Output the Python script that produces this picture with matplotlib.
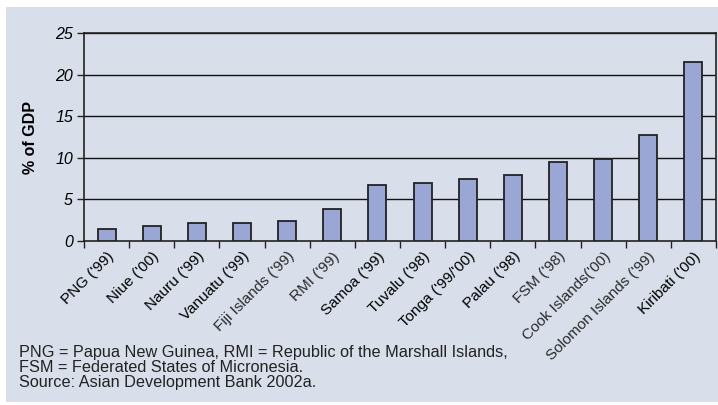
import numpy as np
import matplotlib.pyplot as plt
from matplotlib.patches import Rectangle

plt.rcParams['font.family'] = ['Liberation Sans', 'DejaVu Sans']

countries = ["PNG ('99)", "Niue ('00)", "Nauru ('99)", "Vanuatu ('99)", "Fiji Islands ('99)",
             "RMI ('99)", "Samoa ('99)", "Tuvalu ('98)", "Tonga ('99/'00)", "Palau ('98)",
             "FSM ('98)", "Cook Islands('00)", "Solomon Islands ('99)", "Kiribati ('00)"]
share_gdp = [1.4, 1.85, 2.2, 2.2, 2.35, 3.9, 6.7, 7.0, 7.45, 7.95, 9.5, 9.8, 12.8, 21.5]
dark_labels = [True, True, True, True, False, False, True, True, True, True,
               False, False, False, True]
yticks = [0, 5, 10, 15, 20, 25]

notes = ["PNG = Papua New Guinea, RMI = Republic of the Marshall Islands,",
         "FSM = Federated States of Micronesia.",
         "Source: Asian Development Bank 2002a."]

W, H = 718, 405
fig = plt.figure(figsize=(W / 100, H / 100), dpi=100, facecolor='white')
panel_col = '#d8dfeb'
fig.add_artist(Rectangle((6 / W, 3 / H), 1, 1 - 10 / H, transform=fig.transFigure,
                         facecolor=panel_col, edgecolor='none', zorder=-10))

ax = fig.add_axes([84 / W, 1 - 241 / H, (716 - 84) / W, (241 - 33) / H])
ax.set_facecolor(panel_col)

x = np.arange(len(countries))
ax.bar(x, share_gdp, width=0.4, color='#9aa6d4', edgecolor='#222222', linewidth=1.3, zorder=3)

ax.set_xlim(-0.5, len(countries) - 0.5)
ax.set_ylim(0, 25)
ax.set_yticks(yticks)
ax.set_yticklabels([str(v) for v in yticks], fontstyle='italic', fontsize=11.5)
for v in yticks[1:]:
    ax.axhline(v, color='#111111', linewidth=1.0, zorder=1)

# ticks sit between categories, labels centred under bars
ax.set_xticks(np.arange(len(countries) + 1) - 0.5)
ax.set_xticklabels([])
ax.set_xticks(x, minor=True)
ax.set_xticklabels(countries, minor=True, rotation=45, ha='right', va='top',
                   rotation_mode='anchor', fontsize=11)
for lbl, d in zip(ax.get_xticklabels(minor=True), dark_labels):
    lbl.set_color('#000000' if d else '#2a2a2a')
ax.tick_params(axis='x', which='minor', length=0, pad=6)
ax.tick_params(axis='x', which='major', direction='out', length=5, width=1, color='#222222')
ax.tick_params(axis='y', direction='out', length=5, width=1, color='#222222', pad=3)

for side in ['left', 'bottom', 'right', 'top']:
    ax.spines[side].set_color('#222222')
    ax.spines[side].set_linewidth(1.2)

ax.set_ylabel('% of GDP', fontweight='bold', fontsize=11.5, labelpad=12)

for i, line in enumerate(notes):
    fig.text(19 / W, 1 - (352 + 15 * i) / H, line, fontsize=11.7, color='#222222',
             va='center', ha='left')

fig.savefig('out.png', dpi=100, facecolor='white')
